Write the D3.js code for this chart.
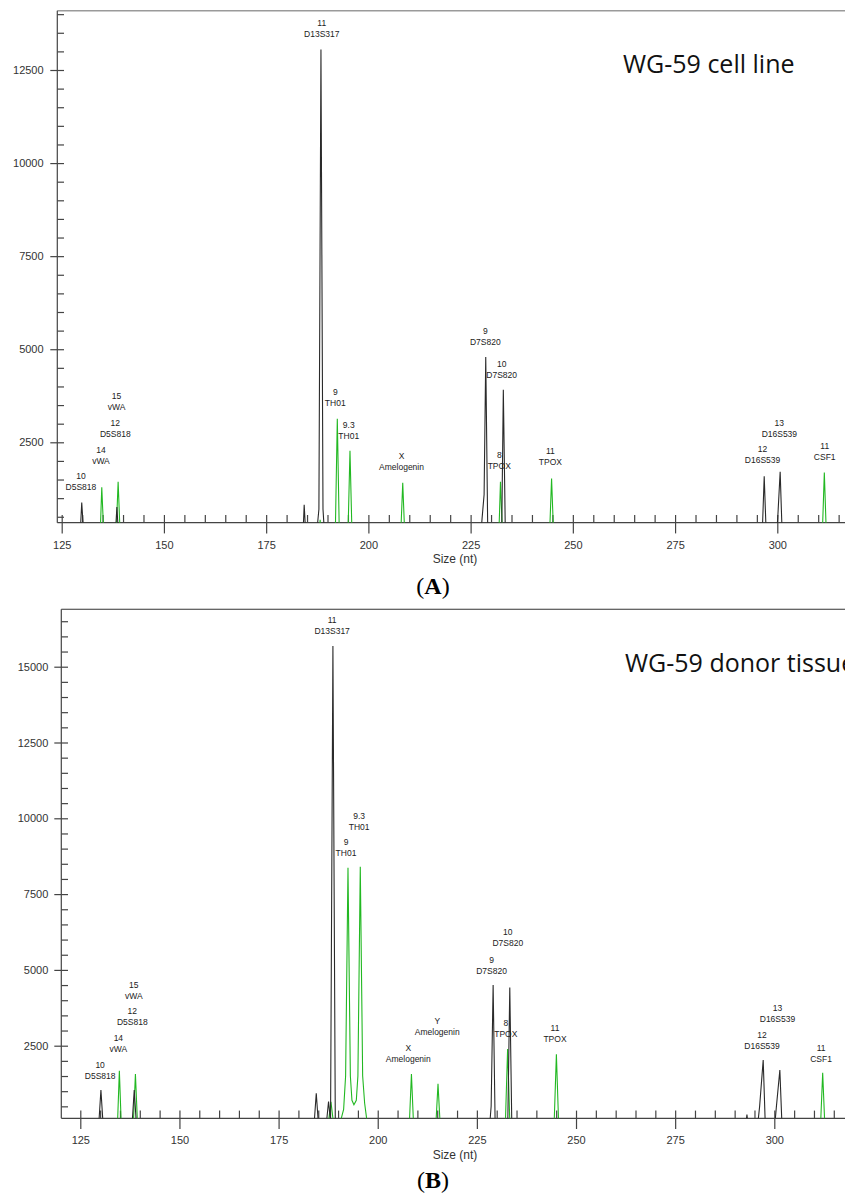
<!DOCTYPE html>
<meta charset="utf-8">
<style>
body { margin: 0; background: #fff; }
.tick text { font-family: "Liberation Sans", Arial, sans-serif; font-size: 11px; fill: #333; }
.tick line { stroke: #444; }
.lbl { font-family: "Liberation Sans", Arial, sans-serif; font-size: 8.5px; fill: #222; }
</style>
<script src="https://d3js.org/d3.v7.min.js"></script>
<body>
<div id="chart"></div>
<script>
// tick values
var xTicks = [125, 150, 175, 200, 225, 250, 275, 300];
var yTicksA = [2500, 5000, 7500, 10000, 12500];
var yTicksB = [2500, 5000, 7500, 10000, 12500, 15000];

// peaks: each peak is a list of [size nt, RFU]
var blackA = [
  [[129.5,0],[129.9,880],[130.4,0]],
  [[138.1,0],[138.5,760],[138.9,0]],
  [[184.0,0],[184.3,820],[184.7,0]],
  [[187.3,0],[187.9,700],[188.4,13050],[188.9,700],[189.3,0]],
  [[227.5,0],[227.8,450],[228.3,1100],[228.7,4790],[229.2,0]],
  [[232.6,0],[233.0,3910],[233.5,0]],
  [[296.3,0],[296.8,1590],[297.3,0]],
  [[299.8,0],[300.1,450],[300.7,1710],[301.2,0]]
];
var greenA = [
  [[134.4,0],[134.8,1290],[135.3,0]],
  [[138.3,0],[138.8,1440],[139.3,0]],
  [[188.0,0],[188.2,420],[188.4,0]],
  [[191.9,0],[192.4,3130],[192.9,0]],
  [[195.0,0],[195.5,2270],[196.0,0]],
  [[207.9,0],[208.4,1410],[208.9,0]],
  [[231.9,0],[232.3,1440],[232.8,0]],
  [[244.3,0],[244.8,1530],[245.3,0]],
  [[311.0,0],[311.5,1690],[312.0,0]]
];
var blackB = [
  [[129.7,0],[130.2,1040],[130.7,0]],
  [[138.1,0],[138.6,1040],[139.1,0]],
  [[184.0,0],[184.5,930],[185.0,0]],
  [[187.1,0],[187.6,660],[188.1,0]],
  [[188.1,0],[188.7,15680],[189.3,0]],
  [[228.3,0],[228.6,500],[229.1,4500],[229.6,0]],
  [[232.8,0],[233.3,4420],[233.8,0]],
  [[292.9,0],[293.1,230],[293.3,0]],
  [[295.9,0],[296.3,500],[297.2,2030],[297.7,0]],
  [[300.2,0],[300.5,450],[301.4,1700],[301.9,0]]
];
var greenB = [
  [[134.4,0],[134.85,1670],[135.3,0]],
  [[138.4,0],[138.9,1570],[139.4,0]],
  [[187.6,0],[188.2,650],[188.8,0]],
  [[190.6,0],[191.4,400],[191.9,1500],[192.5,8370],[193.1,1500],[193.5,700],[194.0,550],
   [194.6,700],[195.0,1500],[195.6,8400],[196.2,1500],[196.7,600],[197.3,0]],
  [[208.0,0],[208.5,1570],[209.0,0]],
  [[214.7,0],[215.2,1240],[215.7,0]],
  [[232.2,0],[232.75,2390],[233.3,0]],
  [[244.5,0],[245.05,2220],[245.6,0]],
  [[311.7,0],[312.2,1610],[312.7,0]]
];

// allele labels: [allele, locus, size nt, RFU of the locus line]
var labelsA = [
  ["10","D5S818",129.7,1290], ["14","vWA",134.6,2010], ["12","D5S818",138.1,2720],
  ["15","vWA",138.4,3450], ["11","D13S317",188.6,13460], ["9","TH01",191.9,3550],
  ["9.3","TH01",195.2,2670], ["X","Amelogenin",208.1,1830], ["9","D7S820",228.6,5200],
  ["10","D7S820",232.6,4310], ["8","TPOX",232.0,1870], ["11","TPOX",244.5,1960],
  ["12","D16S539",296.4,2020], ["13","D16S539",300.5,2720], ["11","CSF1",311.6,2110]
];
var labelsB = [
  ["10","D5S818",130.0,1510], ["14","vWA",134.6,2395], ["12","D5S818",138.1,3285],
  ["15","vWA",138.5,4140], ["11","D13S317",188.5,16170], ["9","TH01",192.0,8850],
  ["9.3","TH01",195.3,9720], ["X","Amelogenin",207.7,2055], ["Y","Amelogenin",215.0,2955],
  ["9","D7S820",228.7,4980], ["10","D7S820",232.8,5880], ["8","TPOX",232.3,2880],
  ["11","TPOX",244.7,2710], ["12","D16S539",296.9,2500], ["13","D16S539",300.8,3390],
  ["11","CSF1",311.8,2065]
];

var W = 845, H = 1201;
var svg = d3.select("#chart").append("svg")
  .attr("width", W).attr("height", H);

var panels = [
  { id: "A", top: 10.7, base: 522.7, left: 57.3, xr: [61.7, 777.3], yr: [442.3, 70],
    ydom: [2500, 12500], yTicks: yTicksA, yMax: 14000, black: blackA, green: greenA,
    labels: labelsA, title: "WG-59 cell line", titleX: 623, titleY: 73,
    tag: "A", tagY: 594, sizeY: 563, topColor: "#9a9a9a", topW: 1.6, yPad: 6.7, xPad: 7.7 },
  { id: "B", top: 609.3, base: 1118.3, left: 61.3, xr: [80.3, 774.3], yr: [1045.7, 666.7],
    ydom: [2500, 15000], yTicks: yTicksB, yMax: 16500, black: blackB, green: greenB,
    labels: labelsB, title: "WG-59 donor tissue", titleX: 625, titleY: 671.7,
    tag: "B", tagY: 1188, sizeY: 1159, topColor: "#333", topW: 1.1, yPad: 6, xPad: 7 }
];

panels.forEach(function(p) {
  var x = d3.scaleLinear().domain([125, 300]).range(p.xr);
  var y = d3.scaleLinear().domain(p.ydom).range(p.yr);
  var g = svg.append("g");

  // clip traces to the plot area
  g.append("clipPath").attr("id", "clip" + p.id)
    .append("rect")
      .attr("x", p.left).attr("y", p.top)
      .attr("width", W - p.left).attr("height", p.base - p.top);

  // minor y ticks (inside)
  var yMinor = d3.range(500, p.yMax + 1, 500);
  g.append("g")
    .attr("transform", "translate(" + p.left + ",0)")
    .call(d3.axisRight(y).tickValues(yMinor).tickSize(6.7).tickFormat(""))
    .call(function(a) { a.select(".domain").remove(); });

  // major y ticks with labels
  g.append("g")
    .attr("transform", "translate(" + p.left + ",0)")
    .call(d3.axisLeft(y).tickValues(p.yTicks).tickSize(7).tickPadding(p.yPad).tickFormat(d3.format("d")))
    .call(function(a) { a.select(".domain").remove(); });

  // minor x ticks (inside, every 5 nt)
  var xMinor = d3.range(125, 320, 5).filter(function(d) { return x(d) > p.left + 2 && x(d) < W; });
  g.append("g")
    .attr("transform", "translate(0," + p.base + ")")
    .call(d3.axisTop(x).tickValues(xMinor).tickSize(7.7).tickFormat(""))
    .call(function(a) { a.select(".domain").remove(); });

  // major x ticks with labels
  g.append("g")
    .attr("transform", "translate(0," + p.base + ")")
    .call(d3.axisBottom(x).tickValues(xTicks).tickSize(10.7).tickPadding(p.xPad))
    .call(function(a) { a.select(".domain").remove(); });

  g.selectAll(".tick line").attr("stroke", "#444").attr("stroke-width", 1.2);

  // frame: top border, left axis, baseline
  g.append("line")
    .attr("x1", p.left).attr("x2", W).attr("y1", p.top).attr("y2", p.top)
    .attr("stroke", p.topColor).attr("stroke-width", p.topW);
  g.append("line")
    .attr("x1", p.left).attr("x2", p.left).attr("y1", p.top).attr("y2", p.base)
    .attr("stroke", "#444").attr("stroke-width", 1.2);
  g.append("line")
    .attr("x1", p.left).attr("x2", W).attr("y1", p.base).attr("y2", p.base)
    .attr("stroke", "#444").attr("stroke-width", 1.2);

  // traces
  var line = d3.line()
    .x(function(d) { return x(d[0]); })
    .y(function(d) { return y(d[1]); });

  var traces = g.append("g").attr("clip-path", "url(#clip" + p.id + ")");
  traces.selectAll(".green")
    .data(p.green).enter().append("path")
      .attr("class", "green")
      .attr("d", line)
      .attr("fill", "none")
      .attr("stroke", "#22b822")
      .attr("stroke-width", 1.1);
  traces.selectAll(".black")
    .data(p.black).enter().append("path")
      .attr("class", "black")
      .attr("d", line)
      .attr("fill", "none")
      .attr("stroke", "#2a2a2a")
      .attr("stroke-width", 1.1);

  // allele labels
  var lbl = g.selectAll(".lblg")
    .data(p.labels).enter().append("g")
      .attr("transform", function(d) { return "translate(" + x(d[2]) + "," + y(d[3]) + ")"; });
  lbl.append("text").attr("class", "lbl")
    .attr("text-anchor", "middle").attr("y", -11 + 3)
    .text(function(d) { return d[0]; });
  lbl.append("text").attr("class", "lbl")
    .attr("text-anchor", "middle").attr("y", 3)
    .text(function(d) { return d[1]; });

  // sample title
  g.append("text")
    .attr("x", p.titleX).attr("y", p.titleY)
    .style("font-family", "'Open Sans', sans-serif")
    .style("font-size", "25px")
    .attr("fill", "#111")
    .text(p.title);

  // axis title
  g.append("text")
    .attr("x", 455).attr("y", p.sizeY)
    .attr("text-anchor", "middle")
    .style("font-family", "'Liberation Sans', Arial, sans-serif")
    .style("font-size", "12px")
    .attr("fill", "#333")
    .text("Size (nt)");

  // panel tag
  var tag = g.append("text")
    .attr("x", 433).attr("y", p.tagY)
    .attr("text-anchor", "middle")
    .style("font-family", "'Liberation Serif', 'Times New Roman', serif")
    .style("font-size", "24px")
    .attr("fill", "#000");
  tag.append("tspan").text("(");
  tag.append("tspan").style("font-weight", "bold").text(p.tag);
  tag.append("tspan").text(")");
});
</script>
</body>
